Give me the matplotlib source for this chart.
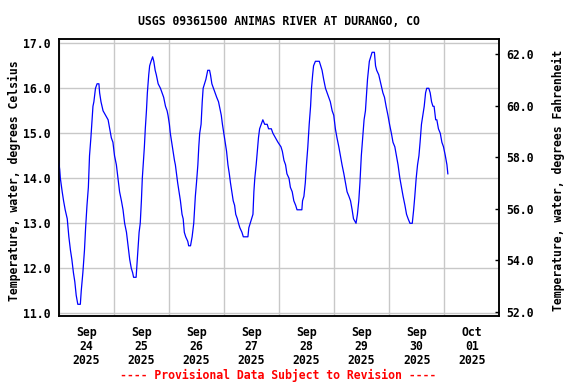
import matplotlib
matplotlib.use("Agg")
import matplotlib.pyplot as plt
import matplotlib.dates as mdates
import pandas as pd

# hours after 2025-09-24 00:00, water temperature in deg C
hrs = [0.0, 0.5, 0.8, 1.6, 2.2, 2.9, 3.8, 4.5, 5.2, 5.8, 6.5, 7.1, 7.7, 8.4, 9.5, 9.9,
       10.6, 11.3, 11.8, 12.4, 13.0, 13.5, 14.1, 14.6, 15.0, 15.4, 16.1, 16.8, 17.6, 17.9,
       18.5, 19.4, 20.5, 21.6, 22.3, 23.0, 23.7,
       24.4, 25.2, 25.9, 26.6, 27.4, 28.1, 28.8, 29.6, 30.3, 31.0, 31.7, 32.3, 32.7, 33.8,
       34.2, 34.6, 35.1, 35.6, 36.1, 36.5, 37.0, 37.4, 37.8, 38.3, 38.7, 39.3, 39.7, 40.3,
       41.0, 41.5, 42.1, 42.6, 43.4, 44.4, 45.1, 45.8, 46.6, 47.3, 47.7,
       48.3, 48.7, 49.3, 49.9, 50.5, 50.9, 51.4, 51.9, 52.5, 53.1, 53.8, 54.3, 54.8, 55.4,
       56.3, 56.7, 57.5, 58.2, 58.9, 59.6, 60.1, 60.7, 61.1, 61.5, 62.1, 62.6, 63.0, 63.6,
       64.2, 65.0, 65.8, 66.2, 66.8, 67.5, 68.2, 68.9, 69.7, 70.1, 70.9, 71.4,
       72.0, 72.6, 73.2, 73.8, 74.4, 74.9, 75.5, 76.1, 76.7, 77.2, 77.9, 78.4, 79.0, 79.9,
       80.5, 82.5, 82.9, 83.5, 84.1, 84.7, 85.1, 85.5, 86.1, 86.6, 87.1, 87.6, 88.3, 89.0,
       89.8, 90.9, 91.5, 92.7, 93.4, 94.5, 95.6,
       96.9, 97.5, 98.2, 98.9, 99.5, 100.4, 101.0, 101.8, 102.5, 103.3, 103.9, 106.0, 106.3,
       106.9, 107.5, 108.0, 108.6, 109.2, 109.8, 110.2, 110.7, 111.1, 111.9, 112.6, 113.6,
       114.2, 114.8, 115.5, 116.3, 117.0, 117.7, 118.4, 119.2, 119.9,
       120.6, 121.3, 122.1, 122.8, 123.5, 124.3, 125.0, 125.7, 126.5, 127.2, 127.9, 128.5,
       129.6, 130.2, 130.8, 131.3, 131.9, 132.5, 133.1, 133.7, 134.1, 134.6, 135.0, 135.4,
       136.0, 136.6, 137.6, 138.1, 138.6, 139.5, 140.4, 141.3, 142.0, 142.7, 143.5,
       144.2, 145.0, 145.7, 146.5, 147.2, 147.9, 148.7, 149.4, 150.1, 150.9, 151.6, 152.3,
       153.1, 154.1, 154.7, 155.2, 155.8, 156.4, 157.0, 157.5, 158.1, 158.7, 159.3, 159.9,
       160.4, 161.3, 161.9, 162.5, 163.1, 163.6, 164.3, 164.8, 165.5, 166.3, 167.0, 167.7,
       168.5, 169.2, 169.6]
temp_c = [14.4, 14.2, 14.0, 13.7, 13.5, 13.3, 13.1, 12.7, 12.4, 12.2, 11.9, 11.7, 11.4, 11.2, 11.2, 11.5,
          11.9, 12.4, 12.9, 13.4, 13.8, 14.5, 14.9, 15.3, 15.6, 15.7, 16.0, 16.1, 16.1, 15.9,
          15.7, 15.5, 15.4, 15.3, 15.1, 14.9, 14.8,
          14.5, 14.3, 14.0, 13.7, 13.5, 13.3, 13.0, 12.8, 12.5, 12.2, 12.0, 11.9, 11.8, 11.8,
          12.1, 12.4, 12.8, 13.0, 13.5, 14.0, 14.4, 14.7, 15.1, 15.5, 15.9, 16.3, 16.5, 16.6,
          16.7, 16.6, 16.4, 16.3, 16.1, 16.0, 15.9, 15.8, 15.6, 15.5, 15.4,
          15.2, 15.0, 14.8, 14.6, 14.4, 14.3, 14.1, 13.9, 13.7, 13.5, 13.2, 13.1, 12.8, 12.7,
          12.6, 12.5, 12.5, 12.7, 13.0, 13.6, 13.9, 14.3, 14.7, 15.0, 15.2, 15.7, 16.0, 16.1,
          16.2, 16.4, 16.4, 16.3, 16.1, 16.0, 15.9, 15.8, 15.7, 15.6, 15.4, 15.2,
          15.0, 14.8, 14.6, 14.3, 14.1, 13.9, 13.7, 13.5, 13.4, 13.2, 13.1, 13.0, 12.9, 12.8,
          12.7, 12.7, 12.9, 13.0, 13.1, 13.2, 13.7, 14.0, 14.3, 14.6, 14.9, 15.1, 15.2, 15.3,
          15.2, 15.2, 15.1, 15.1, 15.0, 14.9, 14.8,
          14.7, 14.6, 14.4, 14.3, 14.1, 14.0, 13.8, 13.7, 13.5, 13.4, 13.3, 13.3, 13.5,
          13.6, 13.9, 14.3, 14.7, 15.2, 15.6, 16.0, 16.3, 16.5, 16.6, 16.6, 16.6,
          16.5, 16.4, 16.2, 16.0, 15.9, 15.8, 15.7, 15.5, 15.4,
          15.1, 14.9, 14.7, 14.5, 14.3, 14.1, 13.9, 13.7, 13.6, 13.5, 13.3, 13.1,
          13.0, 13.2, 13.5, 13.9, 14.5, 14.9, 15.3, 15.5, 15.8, 16.2, 16.4, 16.6,
          16.7, 16.8, 16.8, 16.5, 16.4, 16.3, 16.1, 15.9, 15.8, 15.6, 15.4,
          15.2, 15.0, 14.8, 14.7, 14.5, 14.3, 14.0, 13.8, 13.6, 13.4, 13.2, 13.1,
          13.0, 13.0, 13.3, 13.6, 14.0, 14.3, 14.5, 14.8, 15.2, 15.4, 15.6, 15.9,
          16.0, 16.0, 15.9, 15.7, 15.6, 15.6, 15.3, 15.3, 15.1, 15.0, 14.8, 14.7,
          14.5, 14.3, 14.1]

c_ticks = [11, 12, 13, 14, 15, 16, 17]
f_ticks = [52, 54, 56, 58, 60, 62]
start = pd.Timestamp("2025-09-24")
end = pd.Timestamp("2025-10-02")

title = "USGS 09361500 ANIMAS RIVER AT DURANGO, CO"
ylab_c = "Temperature, water, degrees Celsius"
ylab_f = "Temperature, water, degrees Fahrenheit"
footer = "---- Provisional Data Subject to Revision ----"

times = start + pd.to_timedelta(hrs, unit="h")

plt.rcParams["font.family"] = ["DejaVu Sans Mono"]
plt.rcParams["font.weight"] = "bold"
fs = 8.3

fig = plt.figure(figsize=(5.76, 3.84), dpi=100)
ax = fig.add_axes([0.1016, 0.1779, 0.7652, 0.7198])
ax.plot(times, temp_c, color="#0000ff", lw=0.9, zorder=3)

ax.set_xlim(start, end)
ax.set_ylim(10.947, 17.089)
ax.set_yticks(c_ticks)
ax.set_yticklabels(["%.1f" % v for v in c_ticks], fontsize=fs, fontweight="bold")
ax.tick_params(axis="y", length=0, pad=6)

ax.xaxis.set_major_locator(mdates.DayLocator())
ax.xaxis.set_major_formatter(plt.NullFormatter())
ax.xaxis.set_minor_locator(mdates.HourLocator(byhour=12))
ax.xaxis.set_minor_formatter(mdates.DateFormatter("%b\n%d\n%Y"))
ax.tick_params(axis="x", which="both", length=0, pad=7.5)
for lab in ax.get_xticklabels(minor=True):
    lab.set_fontsize(fs)
    lab.set_fontweight("bold")
    lab.set_linespacing(1.1)

ax.grid(True, which="major", color="#c8c8c8", lw=1.0)
ax.set_axisbelow(True)
for s in ax.spines.values():
    s.set_linewidth(1.1)

ax2 = ax.twinx()
ax2.set_ylim(51.845, 62.58)
ax2.set_yticks(f_ticks)
ax2.set_yticklabels(["%.1f" % v for v in f_ticks], fontsize=fs, fontweight="bold")
ax2.tick_params(axis="y", direction="in", length=3, width=1, pad=5)
for s in ax2.spines.values():
    s.set_linewidth(1.1)

fig.text(0.484, 0.943, title, ha="center", va="center", fontsize=fs, fontweight="bold")
fig.text(0.025, 0.53, ylab_c, rotation=90, ha="center", va="center", fontsize=fs, fontweight="bold")
fig.text(0.969, 0.53, ylab_f, rotation=90, ha="center", va="center", fontsize=fs, fontweight="bold")
fig.text(0.482, 0.023, footer, ha="center", va="center", fontsize=fs, fontweight="bold", color="red")

fig.savefig("out.png", dpi=100)
